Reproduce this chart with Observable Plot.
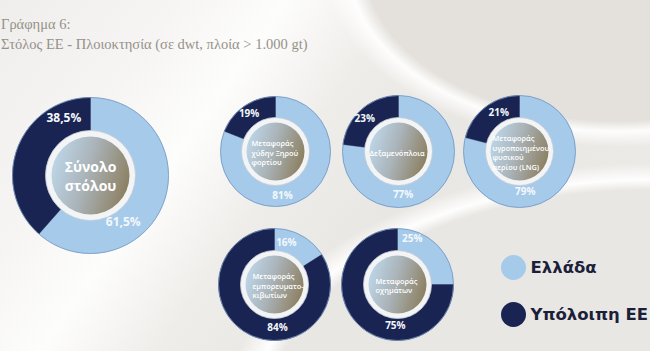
<!DOCTYPE html>
<html><head><meta charset="utf-8">
<script src="https://cdn.jsdelivr.net/npm/d3@7"></script>
<script src="https://cdn.jsdelivr.net/npm/@observablehq/plot@0.6"></script>
<style>
body{margin:0;}
#wrap{width:650px;height:351px;position:relative;overflow:hidden;
 background:
  radial-gradient(ellipse 560px 330px at 100% 118%, rgba(233,231,227,1) 0 68%, rgba(255,255,255,0.95) 71%, rgba(255,255,255,0) 76%),
  radial-gradient(ellipse 420px 260px at 95% -10%, rgba(228,225,220,1) 0 60%, rgba(255,255,255,0.9) 64%, rgba(255,255,255,0) 70%),
  linear-gradient(125deg, #efeeec 0%, #f6f5f3 20%, #fdfdfc 32%, #efedea 45%, #e9e7e3 60%, #eeece9 100%);}
#title{height:56px;box-sizing:border-box;padding:14px 0 0 1px;font-family:"Liberation Serif",serif;font-size:14.5px;line-height:20px;color:#959189;}
</style></head>
<body><div id="wrap"><div id="title">Γράφημα 6:<br>Στόλος ΕΕ - Πλοιοκτησία (σε dwt, πλοία &gt; 1.000 gt)</div><div id="chart"></div></div>
<script>
// ---- data ----
const categories = ["Ελλάδα", "Υπόλοιπη ΕΕ"];
const groups = ["Σύνολο στόλου", "Μεταφοράς χύδην Ξηρού φορτίου", "Δεξαμενόπλοια",
  "Μεταφοράς υγροποιημένου φυσικού αερίου (LNG)", "Μεταφοράς εμπορευματοκιβωτίων", "Μεταφοράς οχημάτων"];
const centerLabels = ["Σύνολο\nστόλου", "Μεταφοράς\nχύδην Ξηρού\nφορτίου", "Δεξαμενόπλοια",
  "Μεταφοράς\nυγροποιημένου\nφυσικού\nαερίου (LNG)", "Μεταφοράς\nεμπορευματο-\nκιβωτίων", "Μεταφοράς\nοχημάτων"];
const greece = [61.5, 81, 77, 79, 16, 25];
const restEU = [38.5, 19, 23, 21, 84, 75];

// ---- layout (page pixels) ----
const layout = [
  {cx: 90,  cy: 175, r: 78, ring: 45, core: 39, dx: 0,   lab: [145, 335], lr: [57, 63]},
  {cx: 275, cy: 151, r: 55, ring: 34, core: 29, dx: -24, lab: [171, 325], lr: [45, 46]},
  {cx: 398, cy: 151, r: 56, ring: 34, core: 29, dx: -29, lab: [174, 314], lr: [44, 47]},
  {cx: 519, cy: 151, r: 56, ring: 34, core: 29, dx: -27, lab: [172, 332], lr: [41, 44]},
  {cx: 274, cy: 284, r: 56, ring: 34, core: 29, dx: -22, lab: [16, 176],  lr: [43, 43]},
  {cx: 397, cy: 284, r: 56, ring: 34, core: 29, dx: -22, lab: [18, 183],  lr: [48, 41]}
];
const legendY = [267, 314];
const colors = ["#a6cbea", "#1a2452"];

const fmt = v => String(v).replace(".", ",") + "%";
const rad = d => d * Math.PI / 180;

// wedges computed from the values
const wedges = [];
const labels = [];
groups.forEach((g, i) => {
  const L = layout[i];
  const vals = [greece[i], restEU[i]];
  const arcs = d3.pie().sort(null).value(d => d.v)(categories.map((c, j) => ({c, v: vals[j]})));
  arcs.forEach((a, j) => {
    const id = i + "-" + j;
    wedges.push({id, cat: a.data.c, x: L.cx, y: L.cy});
    const n = Math.max(2, Math.ceil((a.endAngle - a.startAngle) / rad(1)));
    for (let k = 0; k <= n; k++) {
      const t = a.startAngle + (a.endAngle - a.startAngle) * k / n;
      wedges.push({id, cat: a.data.c, x: L.cx + L.r * Math.sin(t), y: L.cy - L.r * Math.cos(t)});
    }
    wedges.push({id, cat: a.data.c, x: L.cx, y: L.cy});
    const t = rad(L.lab[j]);
    labels.push({big: i === 0, text: fmt(a.data.v), x: L.cx + L.lr[j] * Math.sin(t), y: L.cy - L.lr[j] * Math.cos(t)});
  });
});
const centers = groups.map((g, i) => ({...layout[i], label: centerLabels[i], i}));

const chart = Plot.plot({
  width: 650, height: 295,
  margin: 0,
  x: {domain: [0, 650], range: [0, 650], axis: null},
  y: {domain: [56, 351], range: [0, 295], axis: null},
  r: {type: "identity"},
  color: {domain: categories, range: colors},
  style: {background: "transparent", overflow: "visible"},
  marks: [
    Plot.line(wedges, {x: "x", y: "y", z: "id", fill: "cat", stroke: "cat", strokeWidth: 0.4}),
    Plot.dot(centers, {x: "cx", y: "cy", r: "r", fill: "none", stroke: "#7496c0", strokeWidth: 0.8}),
    Plot.dot(centers, {x: "cx", y: "cy", r: "ring", fill: "#f3f4f6", stroke: "#c4c9d1", strokeWidth: 0.8}),
    Plot.dot(centers, {x: "cx", y: "cy", r: "core", fill: "url(#coreGrad)"}),
    Plot.text(centers.filter(d => d.i === 0), {x: "cx", y: "cy", text: "label", fill: "white", fontSize: 14, fontWeight: "bold", fontFamily: "Open Sans", lineHeight: 1.37, textAnchor: "middle"}),
    Plot.text(centers.filter(d => d.i > 0), {x: d => d.cx + d.dx, y: d => d.cy + 1, text: "label", fill: "white", fontSize: 7.4, fontWeight: 600, fontFamily: "Open Sans", lineHeight: 1.3, textAnchor: "start"}),
    Plot.text(labels.filter(d => d.big), {x: "x", y: "y", text: "text", fill: "#f4f8fc", fontSize: 12, fontWeight: "bold", fontFamily: "Open Sans"}),
    Plot.text(labels.filter(d => !d.big), {x: "x", y: "y", text: "text", fill: "#f4f8fc", fontSize: 10, fontWeight: "bold", fontFamily: "Open Sans"}),
    Plot.dot(categories, {x: () => 513, y: (d, i) => legendY[i], r: () => 12.5, fill: d => d}),
    Plot.text(categories, {x: () => 530, y: (d, i) => legendY[i], text: d => d, fill: "#1c1f3a", fontSize: 16.5, fontWeight: "bold", fontFamily: "DejaVu Sans", textAnchor: "start"})
  ]
});
const defs = d3.select(chart).insert("defs", ":first-child");
const grad = defs.append("linearGradient").attr("id", "coreGrad").attr("x1", 0).attr("y1", 0.35).attr("x2", 1).attr("y2", 0.65);
[[0, "#bdd6e8"], [0.45, "#aab3b8"], [1, "#8b7e5f"]].forEach(([o, c]) => grad.append("stop").attr("offset", o).attr("stop-color", c));
document.getElementById("chart").appendChild(chart);
</script>
</body></html>
